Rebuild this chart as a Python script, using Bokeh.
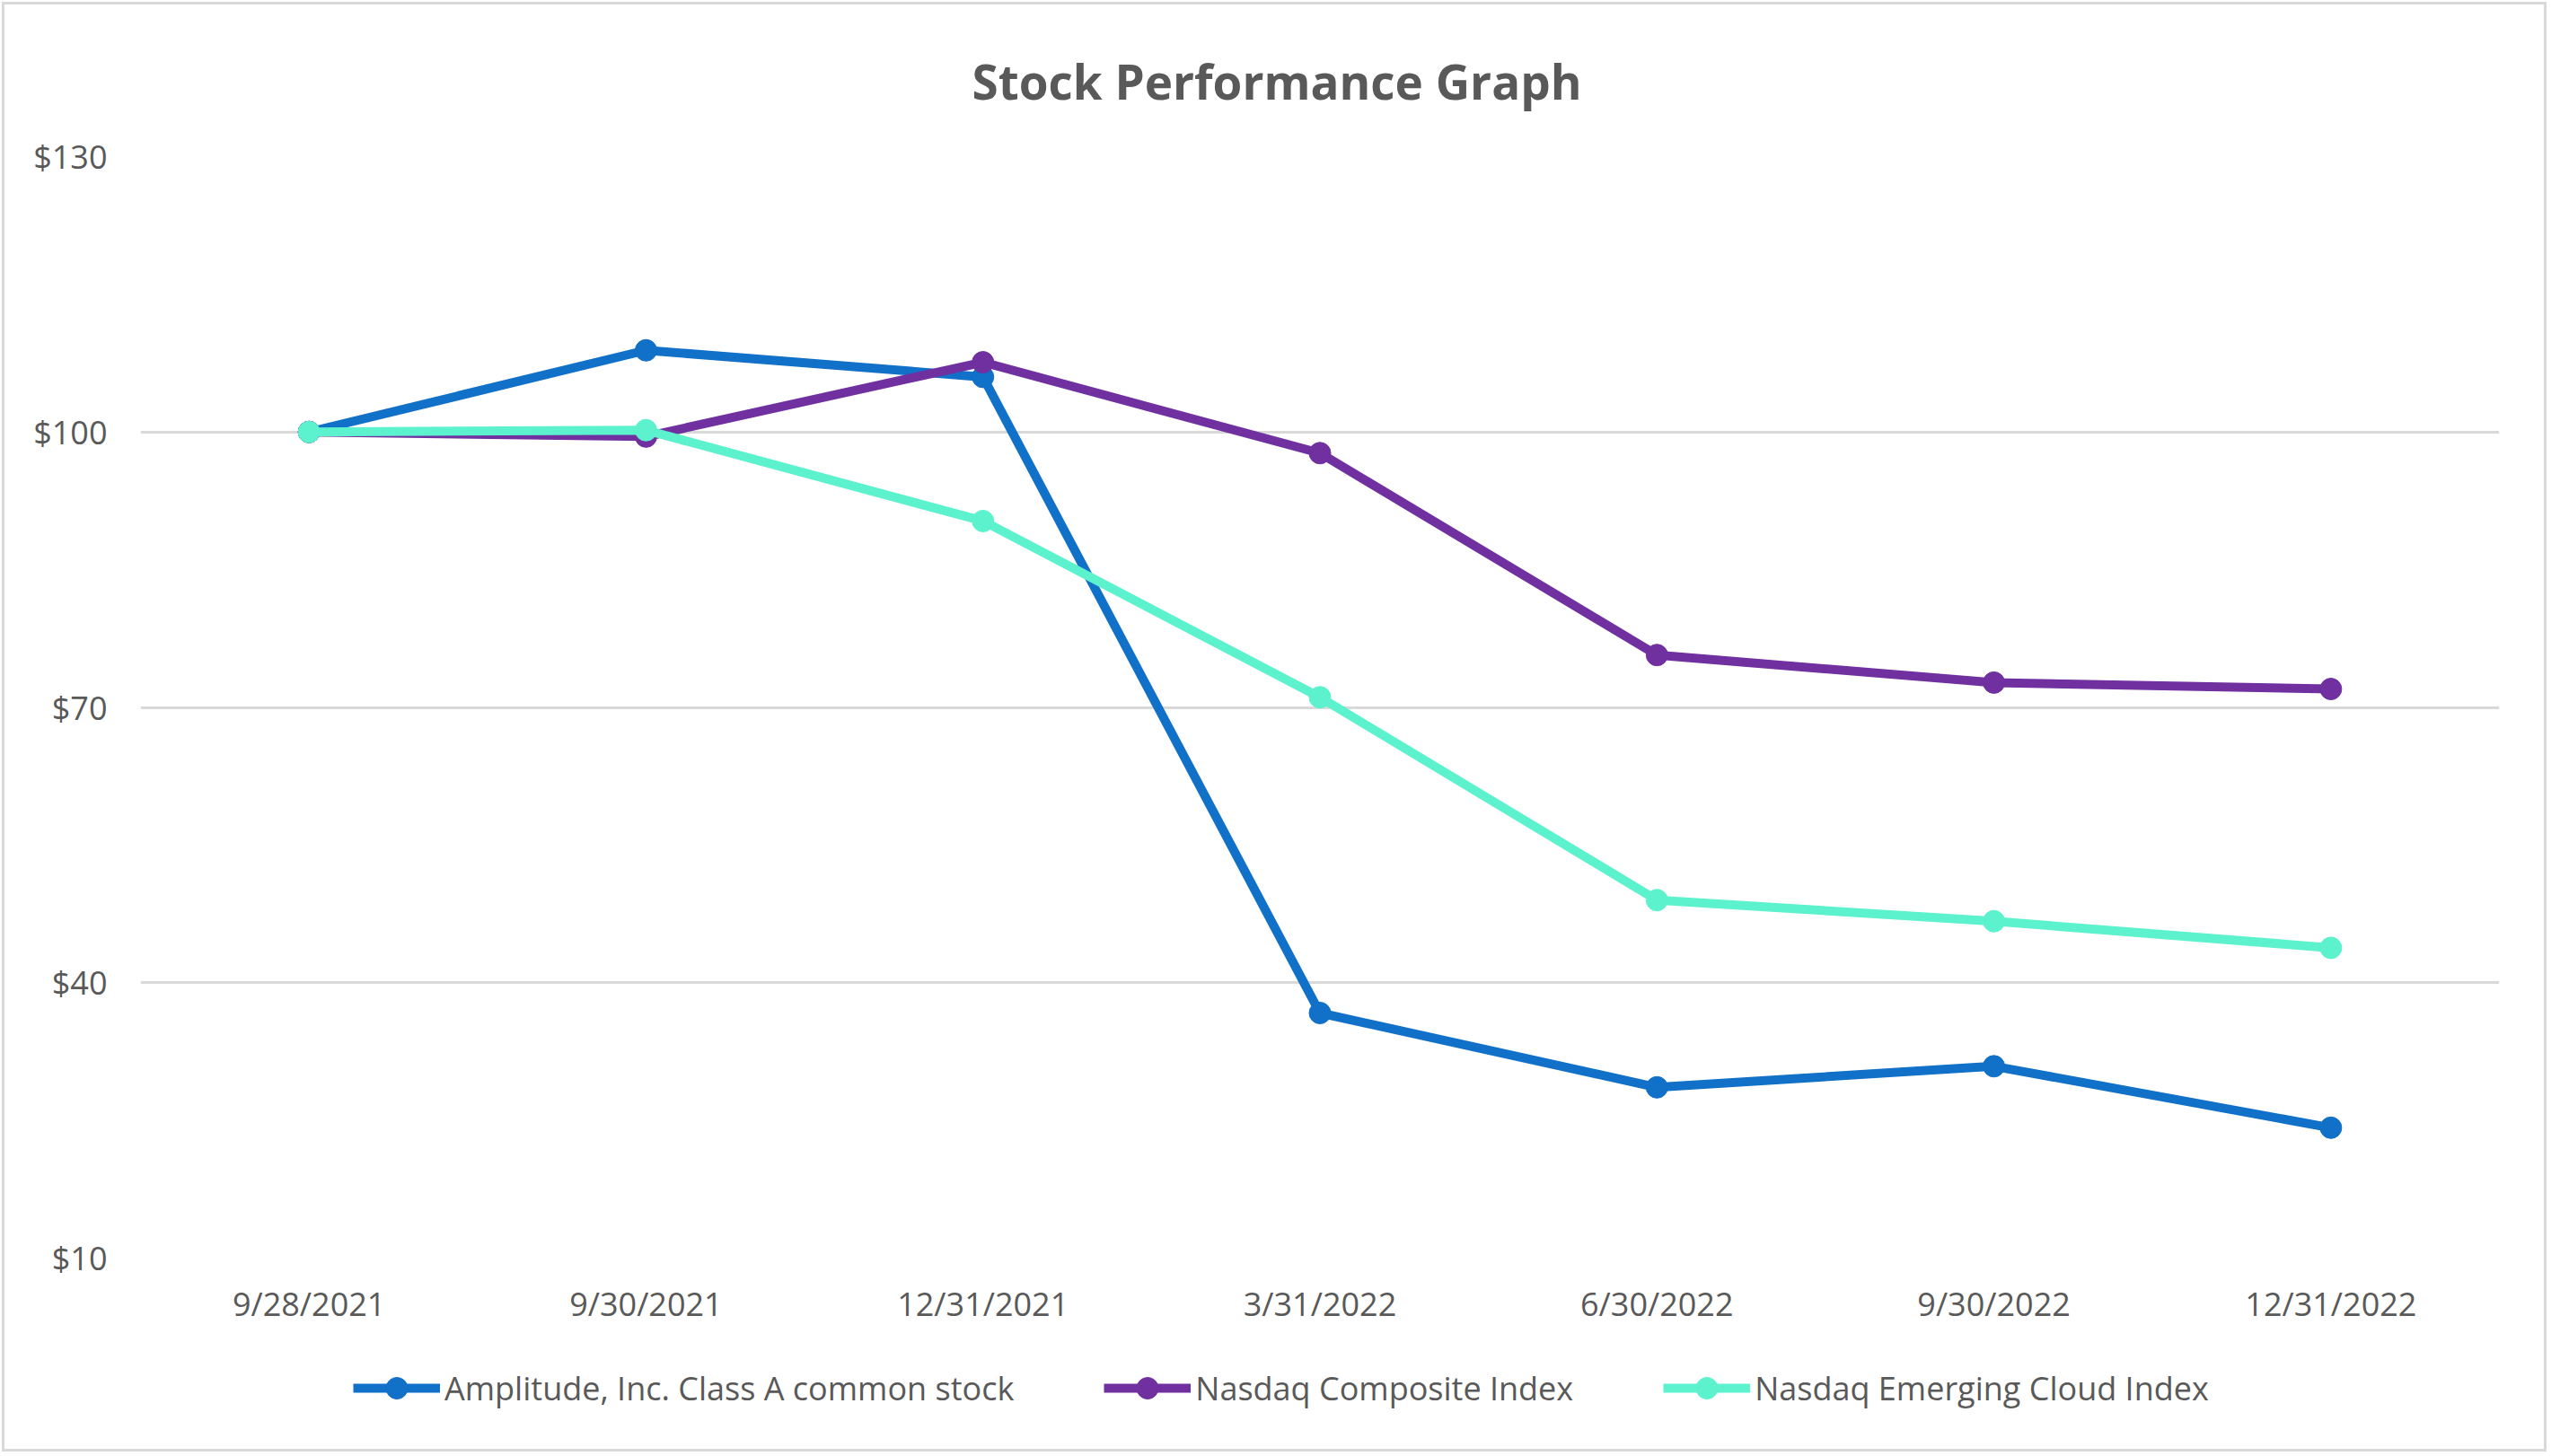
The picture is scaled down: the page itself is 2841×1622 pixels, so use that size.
from bokeh.plotting import figure
from bokeh.layouts import column
from bokeh.models import Legend, LegendItem, FixedTicker, NumeralTickFormatter, ColumnDataSource
from bokeh.embed import file_html
from bokeh.resources import INLINE

dates = ["9/28/2021", "9/30/2021", "12/31/2021", "3/31/2022", "6/30/2022", "9/30/2022", "12/31/2022"]
amplitude = [100, 108.9, 106.0, 36.7, 28.6, 30.9, 24.2]
nasdaq_composite = [100, 99.5, 107.6, 97.7, 75.7, 72.7, 72.0]
nasdaq_cloud = [100, 100.2, 90.3, 71.1, 49.0, 46.7, 43.8]
series_names = ["Amplitude, Inc. Class A common stock", "Nasdaq Composite Index", "Nasdaq Emerging Cloud Index"]
y_ticks = [10, 40, 70, 100, 130]

colors = ["#1170C8", "#7030A0", "#5CF2CD"]
FONT = "Open Sans"
TEXT = "#595959"
W = 2838

p = figure(x_range=dates, y_range=(10, 130), width=W, height=1489,
           output_backend="svg", toolbar_location=None,
           title="Stock Performance Graph",
           min_border_left=156, min_border_right=55, min_border_top=174, min_border_bottom=88)
p.outline_line_color = None
p.background_fill_color = "white"
p.border_fill_alpha = 0

p.title.align = "left"
p.title.offset = 926
p.title.text_font = FONT
p.title.text_font_style = "bold"
p.title.text_font_size = "53px"
p.title.text_color = TEXT
p.title.standoff = 96

for vals, c in zip([amplitude, nasdaq_composite, nasdaq_cloud], colors):
    src = ColumnDataSource(dict(x=dates, y=vals))
    p.line("x", "y", source=src, line_color=c, line_width=10)
    p.scatter("x", "y", source=src, size=24, fill_color=c, line_color=c)

p.yaxis.ticker = FixedTicker(ticks=y_ticks)
p.yaxis.formatter = NumeralTickFormatter(format="$0")
for ax in (p.xaxis, p.yaxis):
    ax.axis_line_color = None
    ax.major_tick_line_color = None
    ax.minor_tick_line_color = None
    ax.major_label_text_font = FONT
    ax.major_label_text_font_size = "36px"
    ax.major_label_text_color = TEXT
p.yaxis.major_label_standoff = 31
p.xaxis.major_label_standoff = 20

p.xgrid.grid_line_color = None
p.ygrid.grid_line_color = "#D9D9D9"
p.ygrid.grid_line_width = 3

# legend strip (legend glyphs only; NaN sources draw no marks)
lg = figure(width=W, height=130, output_backend="svg", toolbar_location=None,
            x_axis_location=None, y_axis_location=None,
            min_border_left=0, min_border_right=0, min_border_top=0, min_border_bottom=0)
lg.outline_line_color = None
lg.background_fill_alpha = 0
lg.border_fill_alpha = 0
lg.xgrid.visible = False
lg.ygrid.visible = False

items = []
for name, c in zip(series_names, colors):
    nan_src = ColumnDataSource(dict(x=[float("nan")], y=[float("nan")]))
    r1 = lg.line("x", "y", source=nan_src, line_color=c, line_width=10)
    r2 = lg.scatter("x", "y", source=nan_src, size=24, fill_color=c, line_color=c)
    items.append(LegendItem(label=name, renderers=[r1, r2]))

legend = Legend(items=items, orientation="horizontal", location=(237, 43),
                glyph_width=97, glyph_height=60, label_standoff=5, spacing=100,
                padding=0, margin=0, border_line_color=None, background_fill_alpha=0,
                label_text_font=FONT, label_text_font_size="36px", label_text_color=TEXT)
lg.add_layout(legend, "center")

layout = column(p, lg, spacing=0)
layout.styles = {"outline": "3px solid #D9D9D9", "outline-offset": "-5px"}

open("out.html", "w").write(file_html(layout, INLINE))
